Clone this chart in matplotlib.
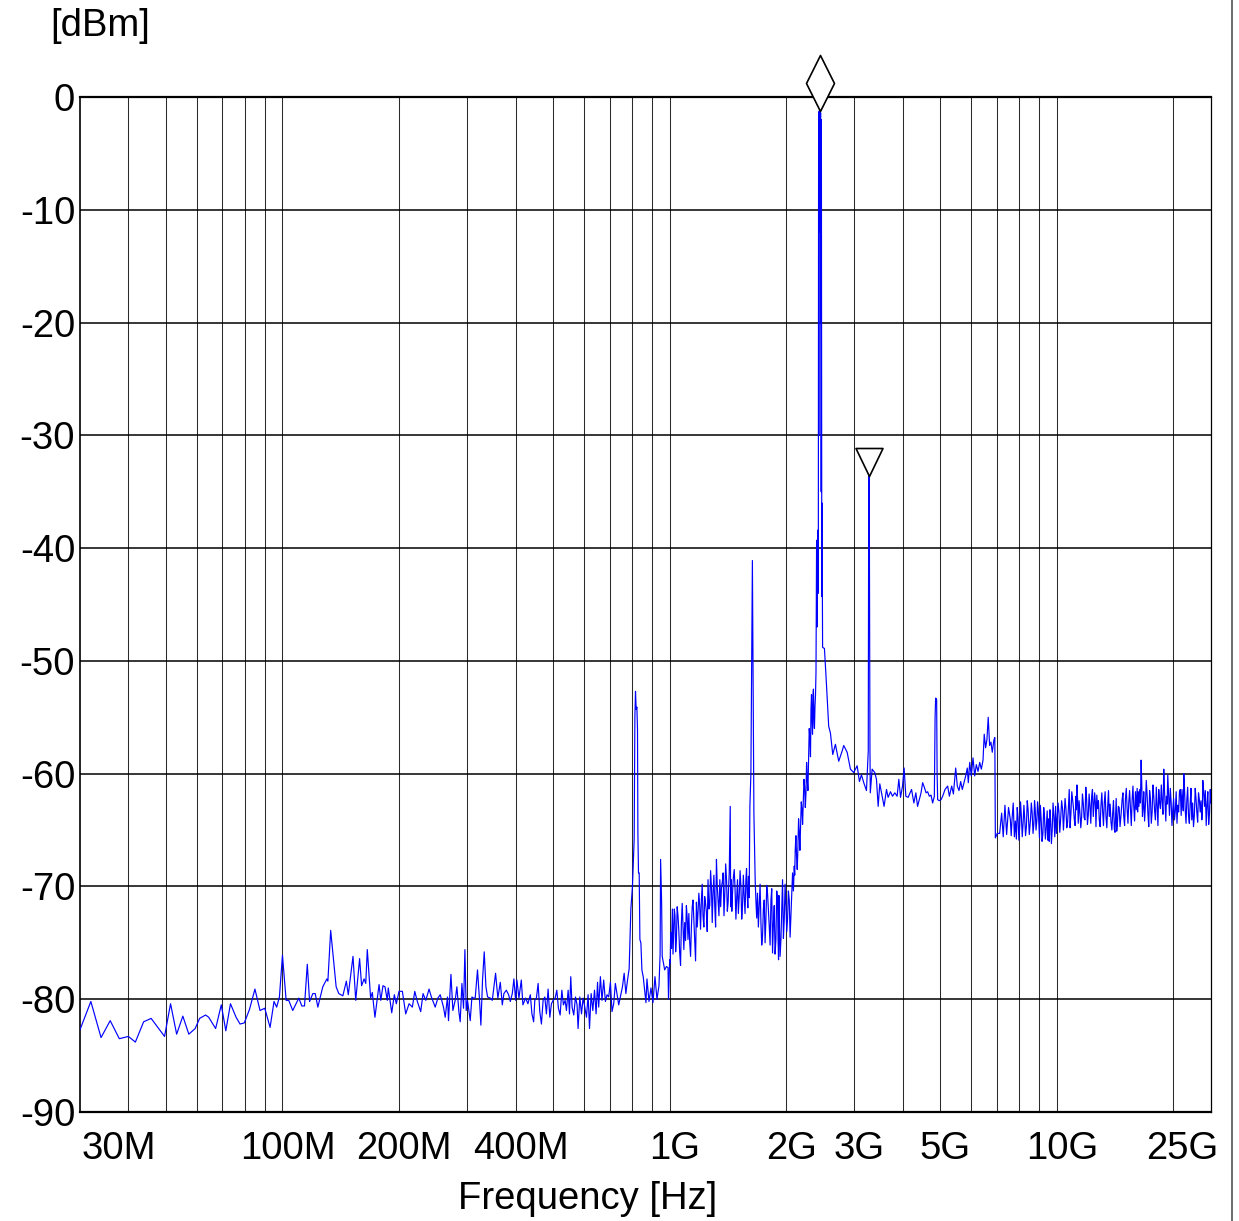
import numpy as np
import matplotlib
matplotlib.use('Agg')
import matplotlib.pyplot as plt
from matplotlib.path import Path
from matplotlib.markers import MarkerStyle
from matplotlib.lines import Line2D
from matplotlib.transforms import offset_copy

# ---------------- data (frequency in MHz, level in dBm) ----------------
seg1_f = [30.0, 32.0, 34.0, 35.9, 37.9, 40.0, 41.7, 43.8, 45.8, 49.6,
          51.4, 53.3, 55.3, 57.3, 59.5, 61.1, 63.3, 64.5, 67.2, 69.5,
          71.4, 73.4, 75.9, 77.7, 79.7, 82.2, 84.9, 87.5, 90.0, 92.9,
          95.1, 96.6, 98.2, 100.0, 102.2, 103.8, 106.3, 110.2, 112.2, 114.0,
          115.9, 117.5, 119.8, 121.5, 123.4, 127.1, 130.2, 131.0, 133.2, 137.6,
          139.8, 143.2, 146.2, 147.9, 152.1, 154.6, 158.2, 160.1, 162.5, 164.1,
          165.6, 168.9, 170.6, 173.3, 177.6, 179.4, 181.8, 184.0, 186.5, 187.6,
          191.5, 194.5, 196.8]
seg1_l = [-82.7, -80.2, -83.4, -81.9, -83.5, -83.3, -83.8, -82.0, -81.7, -83.3,
          -80.4, -83.1, -81.5, -83.1, -82.6, -81.7, -81.4, -81.6, -82.6, -80.5,
          -82.8, -80.4, -81.6, -82.2, -82.1, -80.9, -79.1, -81.0, -80.8, -82.5,
          -80.2, -80.7, -79.8, -76.1, -80.1, -80.1, -81.0, -79.9, -80.6, -80.6,
          -76.9, -80.2, -79.5, -79.5, -80.7, -78.9, -78.2, -78.4, -73.9, -78.9,
          -79.5, -79.7, -78.4, -79.6, -76.2, -80.1, -76.4, -78.8, -78.2, -78.6,
          -75.6, -79.9, -79.4, -81.6, -78.7, -80.1, -78.8, -78.9, -80.1, -79.0,
          -81.2, -79.6, -80.4]

seg2_f = [200.0, 204.0, 208.1, 212.3, 216.5, 219.6, 223.0, 227.5, 230.7, 234.5,
          239.1, 242.4, 248.0, 252.0, 255.5, 260.5, 263.2, 266.8, 268.4, 272.3,
          275.5, 279.3, 282.1, 285.5, 287.7, 290.7, 293.5, 295.9, 298.2, 300.5,
          305.4, 308.5, 311.4, 314.6, 318.9, 322.8, 325.4, 328.6, 331.9, 335.3,
          338.6, 344.1, 348.2, 355.1, 360.0, 365.2, 369.6, 373.1, 378.5, 383.7,
          387.6, 392.2, 396.0, 400.0, 403.1, 408.0, 413.8, 417.8, 424.5, 430.4,
          436.6, 440.8, 445.3, 448.4, 452.7, 457.3, 461.9, 466.4, 471.1, 475.9,
          480.4, 485.3, 490.3, 495.0, 500.0, 506.0, 511.1, 516.0, 521.3, 526.6,
          531.6, 537.0, 541.2, 546.7, 551.1, 555.3, 559.7, 565.3, 571.1, 576.5,
          580.0, 585.9, 591.9, 597.5, 603.6, 609.7, 615.6, 620.8, 626.8, 633.1,
          639.5, 645.6, 651.1, 655.6, 662.3, 668.6, 675.4, 682.3, 689.0, 695.8,
          702.9, 709.6, 716.8, 723.9, 730.9, 738.5, 745.9, 755.1, 762.8, 770.6,
          778.2, 785.8, 793.8, 801.4, 809.6, 813.0, 816.0, 819.4, 822.8, 825.8,
          827.7, 830.7, 834.1, 837.6, 842.6, 847.7, 854.3, 863.2, 868.4, 873.6,
          884.1, 894.7, 905.4, 916.2, 927.2, 938.3, 944.6, 947.4, 953.1, 956.5,
          970.7, 980.5, 990.0, 993.0, 1000.0]
seg2_l = [-79.3, -79.3, -81.3, -80.4, -80.7, -79.3, -80.2, -81.1, -79.5, -80.1,
          -79.1, -79.8, -80.7, -79.9, -79.6, -80.7, -81.6, -79.8, -81.9, -77.8,
          -81.0, -80.1, -78.9, -81.1, -82.0, -78.6, -80.8, -75.6, -81.0, -80.1,
          -81.9, -79.8, -79.9, -79.9, -77.4, -80.1, -82.3, -78.3, -75.8, -78.9,
          -79.8, -79.9, -80.1, -77.7, -79.9, -78.5, -80.5, -79.5, -79.2, -79.6,
          -80.2, -79.5, -78.2, -80.1, -78.3, -79.9, -78.3, -80.5, -79.9, -80.4,
          -79.6, -81.3, -82.0, -80.1, -79.9, -78.6, -81.1, -82.2, -80.1, -79.8,
          -81.3, -79.1, -81.6, -80.4, -80.1, -79.9, -79.2, -80.8, -81.4, -79.2,
          -80.5, -80.1, -81.0, -79.2, -81.3, -78.0, -80.7, -81.4, -79.8, -80.5,
          -82.6, -79.8, -81.3, -79.9, -80.7, -81.6, -79.6, -82.6, -79.5, -81.0,
          -79.2, -81.3, -78.5, -80.7, -78.0, -80.1, -78.3, -80.2, -79.6, -79.8,
          -78.5, -81.1, -80.4, -78.6, -79.5, -80.5, -79.8, -78.9, -77.7, -79.5,
          -78.3, -77.3, -72.0, -70.0, -65.8, -55.0, -52.7, -54.3, -54.1, -56.1,
          -65.2, -68.8, -68.8, -74.7, -75.0, -77.4, -78.0, -79.5, -80.3, -78.2,
          -80.2, -79.0, -80.3, -78.0, -80.0, -78.8, -76.0, -67.6, -71.4, -76.2,
          -77.4, -77.1, -77.2, -80.0, -76.5]

# 1.0 - 1.61 GHz noise band
seg3a_f = [1003.0, 1006.0, 1011.0, 1016.2, 1020.0, 1024.1, 1028.0, 1032.0, 1036.0, 1040.7,
           1045.6, 1050.6, 1056.0, 1061.4, 1066.7, 1072.1, 1077.2, 1082.3, 1087.8, 1093.4,
           1098.9, 1104.4, 1109.7, 1115.0, 1120.7, 1126.5, 1132.2, 1138.0, 1143.4, 1148.8,
           1154.6, 1160.5, 1166.4, 1172.3, 1177.9, 1183.5, 1189.4, 1195.3, 1201.4, 1207.5,
           1213.3, 1219.1, 1225.3, 1231.5, 1237.7, 1244.0, 1250.0, 1256.0, 1262.4, 1268.9,
           1275.3, 1281.7, 1287.8, 1294.0, 1300.6, 1307.3, 1313.9, 1320.6, 1327.0, 1333.3,
           1340.3, 1347.3, 1354.1, 1361.0, 1367.5, 1374.0, 1381.0, 1388.0, 1395.1, 1402.2,
           1408.8, 1415.5, 1420.2, 1424.9, 1433.4, 1437.0, 1440.9, 1447.0, 1453.0, 1460.3,
           1467.7, 1475.0, 1482.5, 1489.6, 1496.7, 1504.3, 1511.9, 1519.6, 1527.3, 1534.6,
           1541.9, 1549.7, 1557.5, 1565.3, 1573.2, 1579.3, 1585.4, 1591.5, 1597.7, 1604.0]
seg3a_l = [-76.8, -74.1, -75.5, -72.0, -76.0, -74.1, -72.0, -72.6, -75.8, -74.7,
           -71.8, -72.6, -74.0, -75.9, -77.0, -73.2, -71.5, -73.5, -75.6, -73.2,
           -74.8, -71.7, -72.8, -74.7, -72.4, -75.0, -76.2, -73.5, -71.8, -71.2,
           -73.0, -74.7, -76.6, -71.4, -73.6, -72.3, -70.6, -71.7, -73.8, -71.2,
           -69.8, -72.6, -73.6, -70.9, -71.5, -72.3, -74.0, -69.4, -72.0, -71.7,
           -68.6, -70.0, -73.2, -70.6, -69.0, -71.7, -73.6, -67.6, -70.0, -71.2,
           -72.6, -69.4, -71.8, -70.0, -69.6, -68.8, -72.6, -70.6, -68.0, -69.4,
           -72.2, -71.4, -69.9, -68.8, -62.9, -71.8, -69.4, -72.2, -70.6, -69.2,
           -68.5, -70.2, -72.9, -71.0, -69.4, -72.4, -70.9, -68.6, -70.0, -72.9,
           -71.7, -69.0, -70.9, -72.4, -69.4, -68.4, -70.6, -71.9, -69.1, -71.0]

# spur near 1.63 GHz
spur_f = [1611.1, 1620.7, 1628.4, 1635.2, 1641.1, 1646.0, 1649.9, 1655.8]
spur_l = [-62.9, -60.0, -50.0, -41.1, -50.0, -57.0, -63.5, -66.4]

# 1.66 - 2.38 GHz band and rising skirt
seg3c_f = [1662.7, 1669.6, 1677.6, 1685.6, 1694.4, 1703.2, 1711.8, 1720.4, 1728.6, 1736.9,
           1745.7, 1754.5, 1763.4, 1772.3, 1780.7, 1789.2, 1798.3, 1807.5, 1816.7, 1826.0,
           1834.7, 1843.5, 1852.7, 1862.0, 1871.4, 1880.9, 1889.9, 1899.0, 1904.7, 1910.4,
           1914.4, 1918.4, 1928.0, 1937.8, 1947.1, 1956.5, 1966.4, 1976.3, 1986.3, 1996.4,
           2006.0, 2015.5, 2025.7, 2036.0, 2046.3, 2056.7, 2066.5, 2076.4, 2087.0, 2097.6,
           2103.0, 2110.1, 2118.0, 2126.5, 2135.0, 2144.3, 2152.0, 2161.0, 2169.0, 2177.9,
           2187.0, 2196.1, 2204.0, 2213.1, 2222.0, 2230.3, 2240.0, 2249.0, 2257.0, 2266.4,
           2275.0, 2284.0, 2293.0, 2303.0, 2310.0, 2316.9, 2324.0, 2330.7, 2338.0, 2344.6,
           2351.0, 2358.6, 2365.0, 2372.7, 2380.0]
seg3c_l = [-69.5, -71.2, -72.8, -70.6, -73.6, -71.7, -69.8, -73.2, -75.2, -74.4,
           -72.0, -71.2, -75.0, -72.9, -69.9, -70.6, -72.0, -73.5, -75.2, -71.2,
           -70.2, -75.9, -73.4, -71.7, -76.0, -74.7, -70.4, -71.2, -74.6, -76.5,
           -70.8, -72.6, -76.2, -74.7, -72.0, -69.4, -74.6, -72.9, -69.8, -71.7,
           -74.0, -72.9, -70.4, -71.2, -74.5, -72.6, -70.8, -68.8, -70.4, -68.2,
           -69.0, -66.7, -65.5, -67.3, -68.5, -66.4, -64.0, -65.2, -66.8, -64.6,
           -62.5, -63.2, -64.5, -62.6, -60.5, -61.1, -63.0, -61.7, -59.0, -60.5,
           -61.5, -58.7, -56.0, -57.0, -58.5, -54.3, -53.0, -55.2, -56.5, -53.1,
           -52.5, -55.5, -56.0, -54.0, -53.0]

# carrier peak around 2.44 GHz
peak_f = [2386.9, 2391.0, 2395.4, 2400.0, 2405.4, 2410.0, 2415.4, 2420.0, 2424.1, 2427.0,
          2429.9, 2433.0, 2435.7, 2438.6, 2441.5, 2444.5, 2447.4, 2450.3, 2453.2, 2456.0,
          2459.0, 2462.0, 2464.9, 2467.8, 2470.8, 2473.7, 2476.6, 2479.5, 2482.5]
peak_l = [-51.0, -46.1, -39.3, -47.0, -45.8, -40.0, -38.4, -44.0, -3.0, -30.0,
          -1.3, -12.0, -1.2, -1.2, -1.6, -9.0, -1.3, -2.5, -1.4, -20.0,
          -2.0, -35.0, -4.0, -30.0, -44.3, -36.0, -40.1, -46.0, -48.8]

seg4_f = [2509.8, 2539.4, 2574.2, 2600.8, 2636.9, 2679.1, 2732.2, 2788.1, 2814.8, 2872.4,
          2929.4, 2987.5, 3048.6, 3090.6, 3127.7, 3170.9, 3222.2, 3257.0, 3266.0, 3276.0,
          3290.0, 3296.8, 3333.0, 3385.5, 3419.7, 3454.5, 3488.0, 3536.7, 3578.5, 3630.1,
          3664.7, 3717.5, 3761.9, 3814.0, 3866.6, 3906.3, 3945.7, 3992.9, 4031.1, 4072.0,
          4128.5, 4213.4, 4271.3, 4322.6, 4366.6, 4426.2, 4457.5, 4500.5, 4545.5, 4592.2,
          4636.1, 4683.0, 4730.8, 4776.0, 4825.0, 4846.0, 4861.9, 4890.9, 4905.0, 4920.3,
          4970.3, 5020.9, 5069.1, 5142.0, 5222.1, 5275.5, 5348.7, 5404.0, 5478.0, 5530.5,
          5586.1, 5642.8, 5696.9, 5755.1, 5813.4, 5869.1, 5904.4, 5953.9, 6010.7, 6071.9,
          6133.4, 6192.3, 6255.4, 6319.0, 6379.9, 6444.5, 6490.5, 6544.7, 6595.4, 6646.4,
          6702.4, 6754.4, 6808.3, 6876.1, 6913.0, 6934.0]
seg4_l = [-48.9, -52.0, -55.8, -56.4, -58.3, -57.4, -58.9, -58.0, -57.5, -58.1,
          -59.6, -59.9, -59.3, -60.7, -60.1, -60.8, -61.5, -58.0, -33.6, -33.8,
          -58.0, -61.7, -59.6, -59.9, -60.5, -62.9, -60.9, -62.0, -62.9, -61.4,
          -62.1, -61.6, -62.0, -61.7, -62.0, -60.5, -62.1, -61.1, -59.5, -62.0,
          -62.1, -61.4, -62.6, -61.7, -62.9, -62.1, -61.7, -60.8, -61.2, -61.7,
          -61.6, -62.0, -61.9, -62.6, -62.0, -55.0, -53.3, -53.4, -60.0, -62.3,
          -62.4, -62.3, -62.0, -61.4, -61.1, -62.0, -61.1, -61.8, -59.5, -61.1,
          -61.5, -60.7, -61.4, -60.8, -60.2, -59.5, -60.8, -59.0, -60.2, -58.6,
          -60.2, -59.2, -59.8, -59.0, -59.6, -58.8, -56.5, -57.7, -57.0, -55.0,
          -57.5, -57.2, -58.1, -57.0, -56.8, -65.7]

# 7 - 12.6 GHz noise floor
seg5a_f = [7012.5, 7113.4, 7198.8, 7267.4, 7341.6, 7415.8, 7500.0, 7582.9, 7620.0, 7659.9,
           7712.0, 7765.5, 7812.0, 7858.6, 7898.0, 7938.0, 7976.0, 8014.3, 8055.0, 8095.8,
           8137.0, 8178.4, 8218.0, 8257.9, 8299.0, 8340.5, 8383.0, 8425.4, 8485.0, 8545.4,
           8589.0, 8632.3, 8676.0, 8720.1, 8754.0, 8788.3, 8832.0, 8877.1, 8912.0, 8946.6,
           8981.0, 9016.1, 9062.0, 9107.8, 9154.0, 9200.6, 9245.0, 9289.3, 9336.0, 9383.1,
           9439.1, 9480.0, 9516.0, 9552.0, 9592.0, 9632.0, 9678.0, 9723.8, 9773.0, 9823.0,
           9873.0, 9922.9, 9970.0, 10017.9, 10069.0, 10119.8, 10171.0, 10222.7, 10284.0, 10345.6,
           10395.0, 10444.6, 10497.0, 10550.5, 10604.0, 10657.8, 10709.0, 10760.0, 10815.0, 10869.4,
           10925.0, 10980.1, 11032.0, 11085.1, 11141.0, 11197.8, 11231.0, 11264.7, 11308.0, 11352.4,
           11410.0, 11467.8, 11526.0, 11584.4, 11640.0, 11695.3, 11755.0, 11814.3, 11874.0, 11934.5,
           11991.0, 12048.6, 12110.0, 12171.4, 12233.0, 12295.2, 12354.0, 12413.0, 12465.0, 12517.0,
           12566.0, 12614.5]
seg5a_l = [-65.3, -65.3, -63.5, -65.6, -62.8, -65.4, -63.0, -64.1, -65.5, -64.0,
           -62.6, -65.6, -64.2, -65.8, -63.0, -64.0, -65.9, -64.7, -62.5, -63.8,
           -65.6, -64.4, -62.8, -64.0, -65.5, -64.7, -62.4, -63.2, -65.4, -64.1,
           -62.6, -63.5, -65.3, -64.4, -62.4, -63.1, -65.0, -64.1, -62.5, -63.1,
           -64.5, -65.7, -62.8, -64.1, -66.0, -65.3, -63.0, -63.8, -65.8, -64.9,
           -63.3, -65.9, -64.0, -66.0, -63.2, -64.1, -66.2, -65.0, -62.6, -63.8,
           -65.6, -62.9, -65.3, -64.0, -62.6, -63.4, -65.2, -64.1, -62.4, -63.2,
           -65.0, -63.7, -62.2, -63.1, -64.8, -64.3, -63.0, -61.4, -64.8, -63.5,
           -61.6, -62.3, -63.0, -64.0, -64.6, -62.0, -63.2, -61.0, -62.2, -64.4,
           -62.4, -63.5, -64.8, -63.8, -61.8, -62.6, -63.9, -64.1, -61.2, -62.3,
           -64.5, -63.7, -61.8, -62.9, -64.4, -62.0, -61.4, -63.8, -62.8, -61.7,
           -62.5, -64.7]

# 12.6 - 25 GHz noise floor
seg5b_f = [12678.0, 12742.8, 12804.0, 12865.0, 12930.0, 12995.7, 13062.0, 13128.0, 13191.0, 13253.7,
           13321.0, 13389.0, 13457.0, 13525.0, 13590.0, 13654.5, 13724.0, 13793.5, 13864.0, 13934.0,
           14000.0, 14067.5, 14126.0, 14185.5, 14228.0, 14270.5, 14338.0, 14407.0, 14480.0, 14554.0,
           14646.0, 14738.0, 14809.0, 14880.0, 14955.0, 15031.0, 15107.0, 15184.0, 15257.0, 15329.0,
           15407.0, 15485.0, 15563.0, 15642.0, 15717.0, 15792.0, 15871.0, 15951.0, 16032.0, 16113.0,
           16161.0, 16209.0, 16286.0, 16364.0, 16432.0, 16500.0, 16565.0, 16631.0, 16695.0, 16759.0,
           16843.0, 16928.0, 17013.0, 17098.0, 17181.0, 17265.0, 17352.0, 17440.0, 17528.0, 17616.0,
           17701.0, 17787.0, 17877.0, 17968.0, 18059.0, 18150.0, 18236.0, 18323.0, 18416.0, 18510.0,
           18604.0, 18698.0, 18788.0, 18878.0, 18957.0, 19037.0, 19110.0, 19183.0, 19258.0, 19333.0,
           19431.0, 19530.0, 19629.0, 19728.0, 19822.0, 19917.0, 20018.0, 20119.0, 20221.0, 20324.0,
           20422.0, 20520.0, 20623.0, 20727.0, 20832.0, 20938.0, 21039.0, 21140.0, 21203.0, 21267.0,
           21356.0, 21446.0, 21551.0, 21656.0, 21762.0, 21869.0, 21979.0, 22090.0, 22194.0, 22298.0,
           22413.0, 22529.0, 22644.0, 22760.0, 22868.0, 22977.0, 23093.0, 23210.0, 23328.0, 23446.0,
           23558.0, 23670.0, 23740.0, 23811.0, 23931.0, 24052.0, 24174.0, 24297.0, 24413.0, 24530.0,
           24654.0, 24778.0, 24889.0, 25000.0]
seg5b_l = [-61.9, -63.1, -62.4, -64.1, -64.7, -62.8, -61.7, -63.4, -64.6, -62.6,
           -61.6, -63.8, -64.8, -62.9, -61.5, -63.8, -62.7, -64.3, -65.0, -63.5,
           -62.4, -64.9, -65.2, -63.4, -62.2, -65.1, -64.3, -62.9, -63.0, -64.7,
           -63.6, -62.3, -61.7, -63.8, -64.6, -62.2, -61.3, -63.2, -64.4, -62.6,
           -61.5, -63.1, -64.6, -62.3, -61.1, -62.9, -64.2, -61.6, -63.2, -61.3,
           -63.4, -61.6, -62.9, -61.4, -62.6, -58.8, -61.0, -63.8, -63.0, -61.6,
           -64.2, -62.8, -60.6, -61.9, -63.6, -64.7, -61.5, -62.2, -64.4, -63.4,
           -61.0, -62.0, -63.3, -64.1, -61.2, -62.9, -64.6, -61.4, -62.6, -63.1,
           -61.0, -62.5, -63.6, -59.6, -61.4, -62.9, -64.2, -62.0, -62.7, -60.1,
           -61.8, -63.7, -61.3, -62.6, -64.6, -63.2, -62.2, -64.1, -63.3, -61.6,
           -64.4, -62.8, -63.4, -61.6, -61.4, -63.7, -61.4, -62.9, -63.3, -60.0,
           -61.3, -63.2, -64.4, -62.3, -61.2, -63.7, -64.4, -62.6, -61.3, -64.1,
           -62.6, -64.7, -63.7, -61.3, -62.2, -63.4, -64.3, -61.7, -62.3, -63.4,
           -62.4, -64.1, -63.6, -60.6, -61.5, -62.9, -61.5, -64.6, -62.8, -61.6,
           -64.5, -63.5, -61.4, -62.6]

# marker positions (MHz, dBm)
marker_main = (2438.6, -1.2)
marker_delta = (3266.0, -33.6)

# axis ticks
ytick_vals = [0, -10, -20, -30, -40, -50, -60, -70, -80, -90]
xtick_vals_mhz = [30, 100, 200, 400, 1000, 2000, 3000, 5000, 10000, 25000]
xtick_labels = ['30M', '100M', '200M', '400M', '1G', '2G', '3G', '5G', '10G', '25G']

# ---------------- figure ----------------
FONT = ['Liberation Sans', 'DejaVu Sans']
plt.rcParams['font.family'] = FONT
FS = 27.5

W, H = 1239, 1221
fig = plt.figure(figsize=(W / 100, H / 100), dpi=100)
ax = fig.add_axes([80 / W, 1 - 1112 / H, (1211 - 80) / W, (1112 - 97) / H])

freq_hz = np.concatenate([seg1_f, seg2_f, seg3a_f, spur_f, seg3c_f, peak_f,
                          seg4_f, seg5a_f, seg5b_f]) * 1e6
level = np.concatenate([seg1_l, seg2_l, seg3a_l, spur_l, seg3c_l, peak_l,
                        seg4_l, seg5a_l, seg5b_l])

ax.set_xscale('log')
ax.set_xlim(30e6, 25e9)
ax.set_ylim(-90, 0)

# vertical grid (1..9 per decade)
for dec in [1e7, 1e8, 1e9, 1e10]:
    for m in range(1, 10):
        v = m * dec
        if 30e6 < v < 25e9:
            ax.axvline(v, color='#2a2a2a', lw=0.75, zorder=1)
for yv in ytick_vals[1:-1]:
    ax.axhline(yv, color='black', lw=1.1, zorder=1)

ax.plot(freq_hz, level, color='#0000ff', lw=0.85, zorder=3)

# markers: tip at the data point
diamond = Path([(0, 0), (-14, 28), (0, 56), (14, 28), (0, 0)],
               [Path.MOVETO, Path.LINETO, Path.LINETO, Path.LINETO, Path.CLOSEPOLY])
tri = Path([(0, 0), (-13.5, 28), (13.5, 28), (0, 0)],
           [Path.MOVETO, Path.LINETO, Path.LINETO, Path.CLOSEPOLY])
ax.plot([marker_main[0] * 1e6], [marker_main[1]], marker=MarkerStyle(diamond),
        markersize=56 * 72 / 100 * 2, mfc='white', mec='black', mew=1.2,
        clip_on=False, zorder=5, ls='none')
ax.plot([marker_delta[0] * 1e6], [marker_delta[1]], marker=MarkerStyle(tri),
        markersize=28 * 72 / 100 * 2, mfc='white', mec='black', mew=1.2,
        clip_on=False, zorder=5, ls='none')

for side, lw in [('top', 1.6), ('bottom', 1.6), ('left', 1.2), ('right', 0.9)]:
    ax.spines[side].set_linewidth(lw)
    ax.spines[side].set_color('black')

ax.set_yticks(ytick_vals)
ax.set_yticklabels([str(v) for v in ytick_vals], fontsize=FS, family=FONT)
ax.tick_params(axis='y', length=0, pad=3.5)
ax.set_xticks([])
ax.xaxis.set_minor_locator(matplotlib.ticker.NullLocator())

base = ax.get_xaxis_transform()
for v, lab in zip(xtick_vals_mhz, xtick_labels):
    if lab == '30M':
        ha, dx = 'left', 2
    elif lab == '25G':
        ha, dx = 'right', 7
    else:
        ha, dx = 'center', 5
    tr = offset_copy(base, fig=fig, x=dx, y=-47, units='dots')
    ax.text(v * 1e6, 0, lab, transform=tr, ha=ha, va='baseline',
            fontsize=FS, family=FONT, clip_on=False)

fig.text(588 / W, 1 - 1209 / H, 'Frequency [Hz]', ha='center', va='baseline',
         fontsize=FS, family=FONT)
fig.text(50 / W, 1 - 36 / H, '[dBm]', ha='left', va='baseline',
         fontsize=FS, family=FONT)

fig.add_artist(Line2D([1232 / W, 1232 / W], [0, 1], color='#444444', lw=1.1))

fig.savefig('out.png', dpi=100)
